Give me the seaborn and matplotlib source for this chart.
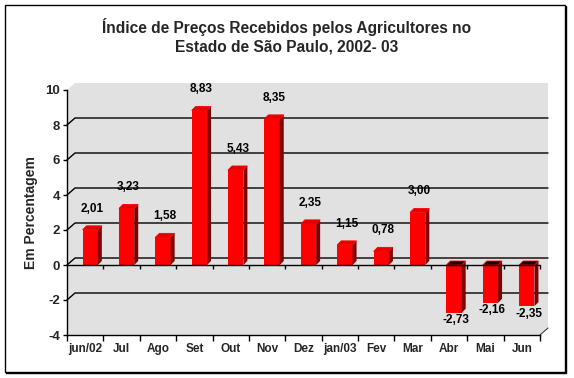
import matplotlib
matplotlib.use('Agg')
import matplotlib.pyplot as plt
import matplotlib.transforms as mtransforms
from matplotlib.patches import Polygon, Rectangle
from matplotlib.lines import Line2D
import seaborn as sns

meses = ['jun/02', 'Jul', 'Ago', 'Set', 'Out', 'Nov', 'Dez',
         'jan/03', 'Fev', 'Mar', 'Abr', 'Mai', 'Jun']
indice = [2.01, 3.23, 1.58, 8.83, 5.43, 8.35, 2.35,
          1.15, 0.78, 3.00, -2.73, -2.16, -2.35]
yticks = [-4, -2, 0, 2, 4, 6, 8, 10]
titulo = ['Índice de Preços Recebidos pelos Agricultores no',
          'Estado de São Paulo, 2002- 03']

sns.set_theme(style='white')
plt.rcParams['font.family'] = ['Liberation Sans', 'DejaVu Sans']
plt.rcParams['font.weight'] = 'bold'

W, H = 574, 378
fig = plt.figure(figsize=(W / 100, H / 100), dpi=100)
ax = fig.add_axes([67 / W, (H - 335) / H, 473 / W, 245 / H])
ax.set_facecolor('none')

n = len(meses)
x0, x1 = -0.5, n - 0.5
ymin, ymax = yticks[0], yticks[-1]
ux = n / 473          # data units per pixel
uy = (ymax - ymin) / 245
wdx, wdy = 8 * ux, 7 * uy   # depth of the back wall
bdx, bdy = 4 * ux, 4 * uy   # depth of a bar

# bars
sns.barplot(x=meses, y=indice, color='#ff0000', saturation=1, width=0.42,
            edgecolor='none', ax=ax, zorder=3)
bars = [p for p in ax.patches if isinstance(p, Rectangle)]

# back wall + side wall (gray)
ax.add_patch(Polygon([(x0, ymax), (x0 + wdx, ymax + wdy), (x1 + wdx, ymax + wdy),
                      (x1 + wdx, ymin + wdy), (x1, ymin), (x0, ymin)],
                     closed=True, facecolor='#e1e1e1', edgecolor='none',
                     clip_on=False, zorder=0))
for y in yticks[1:-1]:
    ax.add_line(Line2D([x0, x0 + wdx, x1 + wdx], [y, y + wdy, y + wdy],
                       color='black', lw=1, clip_on=False, zorder=1))
ax.add_line(Line2D([x1, x1 + wdx], [ymin, ymin + wdy], color='#404040',
                   lw=0.8, clip_on=False, zorder=1))

shift = mtransforms.offset_copy(ax.transData, fig=fig, x=5, y=0, units='dots')
for p in bars:
    p.set_transform(shift)
    x, w, h = p.get_x(), p.get_width(), p.get_height()
    xr = x + w
    top = max(h, 0)
    ax.add_patch(Polygon([(xr, 0), (xr + bdx, bdy), (xr + bdx, h + bdy), (xr, h)],
                         closed=True, facecolor='#800000', edgecolor='none',
                         transform=shift, zorder=3, clip_on=False))
    ax.add_patch(Polygon([(x, top), (x + bdx, top + bdy), (xr + bdx, top + bdy), (xr, top)],
                         closed=True, facecolor='#e00000' if h >= 0 else '#200000',
                         edgecolor='#ff0000', lw=0.6,
                         transform=shift, zorder=3, clip_on=False))

# value labels
for i, v in enumerate(indice):
    txt = f'{v:.2f}'.replace('.', ',')
    if v >= 0:
        ax.annotate(txt, xy=(i, v), xytext=(5, 11), textcoords='offset points',
                    ha='center', va='bottom', fontsize=8.5, fontweight='bold',
                    color='black', zorder=5)
    else:
        ax.annotate(txt, xy=(i, v), xytext=(5, -1), textcoords='offset points',
                    ha='center', va='top', fontsize=8.5, fontweight='bold',
                    color='black', zorder=5)

# front axes
ax.set_xlim(x0, x1)
ax.set_ylim(ymin, ymax)
for s in ['top', 'right']:
    ax.spines[s].set_visible(False)
for s in ['left', 'bottom']:
    ax.spines[s].set_visible(True)
    ax.spines[s].set_color('black')
    ax.spines[s].set_linewidth(1)
ax.set_yticks(yticks)
ax.set_yticklabels([str(t) for t in yticks], fontsize=9.5, fontweight='bold')
ax.set_xticks(range(n))
ax.set_xticklabels(meses, fontsize=8.5, fontweight='bold')
ax.set_xticks([x0 + k for k in range(n + 1)], minor=True)
ax.tick_params(axis='y', left=True, length=3, width=1, color='black', pad=2)
ax.tick_params(axis='x', which='major', bottom=False, length=0, pad=6)
ax.tick_params(axis='x', which='minor', bottom=True, length=4, width=1,
               color='black', direction='out')
ax.set_xlabel('')
ax.set_ylabel('Em Percentagem', fontsize=10, fontweight='bold', labelpad=5)

# front zero line with separators
ax.add_line(Line2D([x0, x1], [0, 0], color='black', lw=1, zorder=4, clip_on=False))
ax.vlines([x0 + k for k in range(1, n + 1)], 0, -4 * uy, color='black',
          lw=1, zorder=4, clip_on=False)

# title
fig.text(0.5, 1 - 27 / H, titulo[0], ha='center', va='center',
         fontsize=11.2, fontweight='bold')
fig.text(0.5, 1 - 47 / H, titulo[1], ha='center', va='center',
         fontsize=11.2, fontweight='bold')

# chart frame
fig.patches.append(Rectangle((5 / W, 1 - 372 / H), 560 / W, 367 / H,
                             transform=fig.transFigure, fill=False,
                             edgecolor='black', lw=1))
fig.lines.append(Line2D([566 / W, 566 / W, 6 / W], [1 - 6 / H, 1 - 373 / H, 1 - 373 / H],
                        transform=fig.transFigure, color='black', lw=1))

fig.savefig('out.png', dpi=100)
